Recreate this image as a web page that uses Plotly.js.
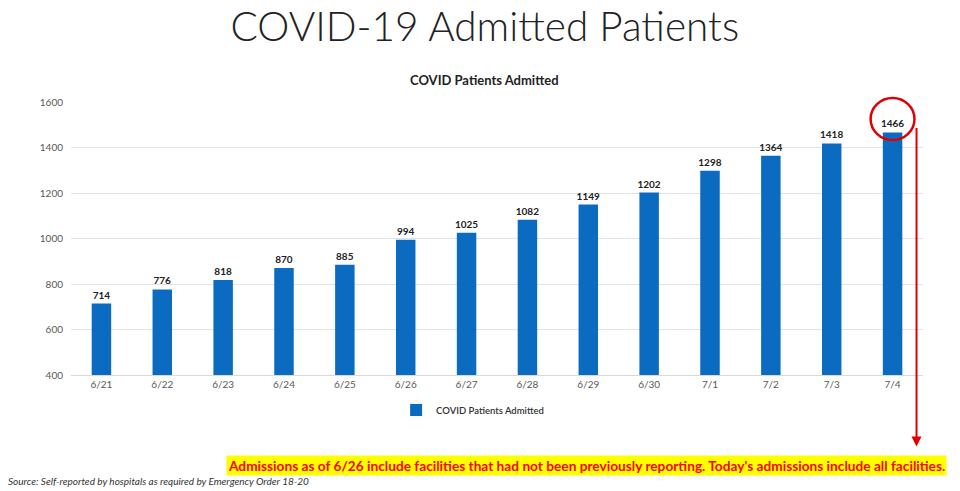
<!DOCTYPE html>
<html>
<head>
<meta charset="utf-8">
<script src="https://cdn.plot.ly/plotly-3.0.1.min.js"></script>
<style>html,body{margin:0;padding:0;background:#fff;}#chart{width:960px;height:491px;}</style>
</head>
<body>
<div id="chart"></div>
<script>
const categories = ["6/21","6/22","6/23","6/24","6/25","6/26","6/27","6/28","6/29","6/30","7/1","7/2","7/3","7/4"];
const admitted = [714,776,818,870,885,994,1025,1082,1149,1202,1298,1364,1418,1466];
const yTicks = [400,600,800,1000,1200,1400,1600];
const seriesName = "COVID Patients Admitted";

const trace = {
  type: "bar",
  x: categories,
  y: admitted,
  name: seriesName,
  width: 0.32,
  marker: {color: "#0B6BC0"},
  text: admitted.map(String),
  textposition: "outside",
  constraintext: "none",
  cliponaxis: false,
  textfont: {family: "Lato, sans-serif", size: 10, color: "#222", weight: 700},
  showlegend: true
};

const layout = {
  width: 960, height: 491,
  margin: {l: 70.5, r: 36.5, t: 102, b: 116},
  paper_bgcolor: "#fff", plot_bgcolor: "#fff",
  font: {family: "Lato, sans-serif", color: "#595959"},
  title: {text: "COVID-19 Admitted Patients", font: {family: "Lato, sans-serif", size: 40.5, color: "#222", weight: 300},
    x: 0.505, xanchor: "center", yref: "container", y: 0.945, yanchor: "middle"},
  xaxis: {type: "category", tickfont: {size: 10, color: "#595959"}, showgrid: false,
    showline: true, linecolor: "#d9d9d9", linewidth: 1, ticks: "", range: [-0.5, 13.5]},
  yaxis: {range: [400, 1600], tickvals: yTicks, tickfont: {size: 10, color: "#595959"},
    showgrid: true, gridcolor: "#e3e3e3", gridwidth: 1, zeroline: false, showline: false, ticklabelstandoff: 7},
  showlegend: true,
  legend: {orientation: "h", x: 0.3816, xanchor: "left", y: -0.128, yanchor: "middle",
    font: {size: 9.5, color: "#333", weight: 600}, itemwidth: 30},
  annotations: [
    {xref: "paper", yref: "paper", x: 0.4848, y: 1.0806, text: "<b>COVID Patients Admitted</b>",
      showarrow: false, font: {size: 13, color: "#222"}, xanchor: "center", yanchor: "middle"},
    {xref: "paper", yref: "paper", x: 1.0287, y: -0.33, xanchor: "right", yanchor: "middle",
      text: "<b>Admissions as of 6/26 include facilities that had not been previously reporting. Today's admissions include all facilities.</b>",
      showarrow: false, bgcolor: "#FFFF00", borderpad: 1, font: {size: 13.7, color: "#FF0000"}},
    {xref: "paper", yref: "paper", x: -0.0768, y: -0.388, xanchor: "left", yanchor: "middle",
      text: "<i>Source: Self-reported by hospitals as required by Emergency Order 18-20</i>",
      showarrow: false, font: {size: 10, color: "#333"}},
    {xref: "paper", yref: "paper", x: 0.9924, y: -0.262, ax: 0, ay: -320, axref: "pixel", ayref: "pixel",
      text: "", showarrow: true, arrowhead: 2, arrowsize: 1, arrowwidth: 2, arrowcolor: "#E00000", standoff: 0, startstandoff: 0}
  ],
  shapes: [
    {type: "circle", xref: "paper", yref: "paper", x0: 0.9385, x1: 0.990, y0: 0.861, y1: 1.0147,
      line: {color: "#E00000", width: 2.5}, fillcolor: "rgba(0,0,0,0)"}
  ]
};

Plotly.newPlot("chart", [trace], layout, {displayModeBar: false, staticPlot: true});
</script>
</body>
</html>
